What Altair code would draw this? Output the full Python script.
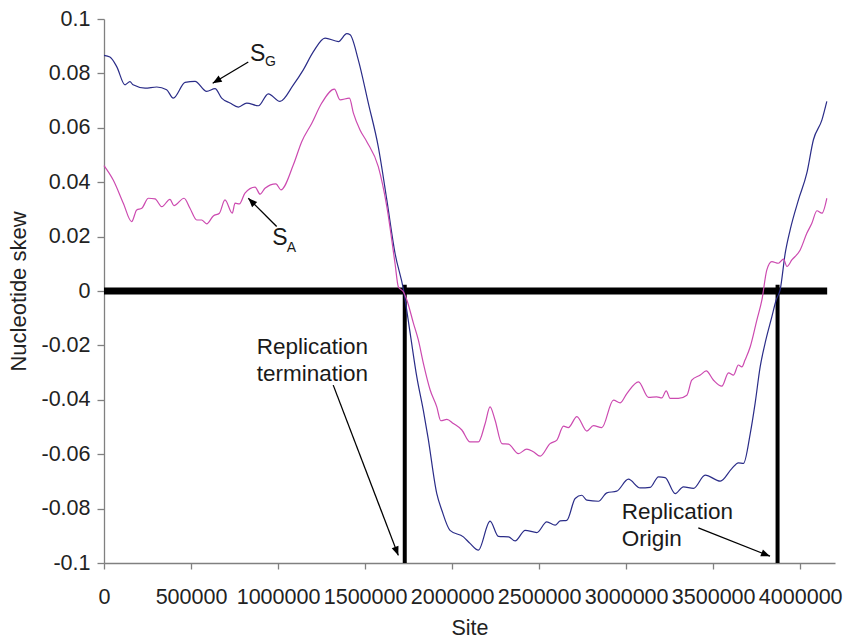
import math
import altair as alt
import pandas as pd

# ---------------- data ----------------
X_MAX = 4200000
Y_MIN, Y_MAX = -0.1, 0.1
W, H = 731, 544

x_ticks = [0, 500000, 1000000, 1500000, 2000000, 2500000, 3000000, 3500000, 4000000]
y_ticks = [-0.1, -0.08, -0.06, -0.04, -0.02, 0, 0.02, 0.04, 0.06, 0.08, 0.1]

# S_G (navy)  site in thousands
sg_site_k = [0, 34, 73, 121, 149, 167, 236, 303, 360, 398, 466, 523, 590, 638, 676, 724, 772, 820,
             887, 944, 1011, 1088, 1145, 1203, 1270, 1347, 1395, 1414, 1461, 1519, 1576, 1625,
             1672, 1720, 1759, 1797, 1835, 1862, 1912, 1941, 1988, 2065, 2103, 2151, 2218, 2266,
             2324, 2362, 2420, 2487, 2544, 2592, 2621, 2659, 2707, 2745, 2774, 2841, 2889, 2946,
             3013, 3080, 3138, 3186, 3224, 3282, 3329, 3387, 3454, 3541, 3607, 3645, 3674, 3713,
             3741, 3770, 3799, 3837, 3862, 3885, 3914, 3942, 3990, 4038, 4076, 4125, 4153]
sg_skew = [0.0866, 0.0860, 0.0825, 0.0758, 0.0770, 0.0758, 0.0746, 0.0750, 0.0740, 0.0709, 0.0767,
           0.0771, 0.0734, 0.0744, 0.0709, 0.0691, 0.0676, 0.0691, 0.0681, 0.0725, 0.0697, 0.0758,
           0.0813, 0.0880, 0.0930, 0.0917, 0.0946, 0.0942, 0.0850, 0.0690, 0.0530, 0.0335, 0.0139,
           0.0007, -0.0155, -0.0315, -0.0440, -0.0540, -0.0745, -0.0806, -0.0880, -0.0904,
           -0.0928, -0.0953, -0.0846, -0.0902, -0.0904, -0.0919, -0.0880, -0.0888, -0.0849,
           -0.0861, -0.0845, -0.0843, -0.0763, -0.0751, -0.0769, -0.0773, -0.0742, -0.0736,
           -0.0692, -0.0724, -0.0722, -0.0683, -0.0686, -0.0745, -0.0720, -0.0726, -0.0677,
           -0.0699, -0.0653, -0.0632, -0.0634, -0.0524, -0.0413, -0.0279, -0.0190, -0.0095,
           -0.0033, 0.0005, 0.0139, 0.0224, 0.0335, 0.0433, 0.0556, 0.0629, 0.0697]

# S_A (magenta)
sa_site_k = [0, 53, 111, 159, 188, 217, 255, 293, 332, 379, 402, 460, 494, 533, 561, 590, 628, 663,
             695, 737, 753, 778, 810, 868, 897, 925, 988, 1016, 1088, 1136, 1194, 1251, 1324, 1356,
             1410, 1433, 1471, 1510, 1576, 1625, 1672, 1691, 1720, 1740, 1778, 1806, 1835, 1874,
             1912, 1935, 1970, 2007, 2056, 2103, 2151, 2190, 2218, 2247, 2286, 2324, 2381, 2429,
             2467, 2506, 2563, 2602, 2640, 2668, 2717, 2774, 2812, 2860, 2927, 2966, 3004, 3071,
             3128, 3176, 3205, 3230, 3253, 3300, 3349, 3377, 3426, 3460, 3502, 3550, 3588, 3617,
             3645, 3665, 3683, 3713, 3751, 3780, 3808, 3837, 3875, 3904, 3924, 3952, 4000, 4038,
             4067, 4096, 4125, 4153]
sa_skew = [0.0461, 0.0408, 0.0323, 0.0255, 0.0298, 0.0304, 0.0341, 0.0339, 0.0310, 0.0337, 0.0314,
           0.0341, 0.0304, 0.0261, 0.0261, 0.0247, 0.0276, 0.0286, 0.0335, 0.0286, 0.0323, 0.0320,
           0.0360, 0.0382, 0.0356, 0.0378, 0.0394, 0.0372, 0.0464, 0.0549, 0.0617, 0.0691, 0.0742,
           0.0703, 0.0709, 0.0654, 0.0592, 0.0549, 0.0457, 0.0310, 0.0102, 0.0016, -0.0003,
           -0.0033, -0.0119, -0.0180, -0.0266, -0.0364, -0.0426, -0.0477, -0.0472, -0.0487,
           -0.0511, -0.0555, -0.0555, -0.0487, -0.0426, -0.0475, -0.0561, -0.0563, -0.0598,
           -0.0581, -0.0591, -0.0607, -0.0561, -0.0548, -0.0497, -0.0502, -0.0462, -0.0515,
           -0.0495, -0.0502, -0.0401, -0.0411, -0.0377, -0.0334, -0.0391, -0.0389, -0.0393,
           -0.0367, -0.0395, -0.0395, -0.0383, -0.0328, -0.0309, -0.0294, -0.0328, -0.0350,
           -0.0301, -0.0309, -0.0272, -0.0279, -0.0254, -0.0205, -0.0107, -0.0033, 0.0077,
           0.0108, 0.0102, 0.0117, 0.0090, 0.0114, 0.0151, 0.0212, 0.0249, 0.0295, 0.0286, 0.0341]

series_names = ["SG", "SA"]
series_colors = ["#2a2c88", "#cc4ab0"]

# reference lines
zero_line_end = 4155000
marker_sites = [1728000, 3870000]
marker_top = 0.0023

# arrows (tail x, tail y, tip x, tip y)
arrow_x1 = [829000, 992000, 1317000, 3414600]
arrow_y1 = [0.0842, 0.0237, -0.0346, -0.0871]
arrow_x2 = [624500, 829000, 1691000, 3826500]
arrow_y2 = [0.0764, 0.0341, -0.0972, -0.0975]

# labels
label_text = ["S", "G", "S", "A", "Replication", "termination", "Replication", "Origin"]
label_x = [838800, 925000, 967000, 1050000, 877000, 877000, 2974500, 2974500]
label_y = [0.0844, 0.0826, 0.0169, 0.0145, -0.0232, -0.0330, -0.0837, -0.0939]
label_size = [23, 14, 23, 14, 22.5, 22.5, 22.5, 22.5]

# ---------------- tables ----------------
lines_df = pd.DataFrame({
    "site": [v * 1000 for v in sg_site_k] + [v * 1000 for v in sa_site_k],
    "skew": sg_skew + sa_skew,
    "series": ["SG"] * len(sg_site_k) + ["SA"] * len(sa_site_k),
})

zero_df = pd.DataFrame({"x0": [0], "x1": [zero_line_end], "y": [0.0]})
vert_df = pd.DataFrame({"x": marker_sites, "yb": [Y_MIN] * 2, "yt": [marker_top] * 2})


def head_angle(x1, y1, x2, y2):
    dx = (x2 - x1) * W / X_MAX
    dy = -(y2 - y1) * H / (Y_MAX - Y_MIN)
    return math.degrees(math.atan2(dx, -dy)) % 360


arrow_df = pd.DataFrame({
    "x1": arrow_x1, "y1": arrow_y1, "x2": arrow_x2, "y2": arrow_y2,
    "ang": [head_angle(a, b, c, d) for a, b, c, d in zip(arrow_x1, arrow_y1, arrow_x2, arrow_y2)],
})
text_df = pd.DataFrame({"x": label_x, "y": label_y, "t": label_text, "s": label_size})

# ---------------- encodings ----------------
FONT = "Liberation Sans"
x_scale = alt.Scale(domain=[0, X_MAX], nice=False, zero=False)
y_scale = alt.Scale(domain=[Y_MIN, Y_MAX], nice=False, zero=False)

x_axis = alt.Axis(
    values=x_ticks, format="d", title="Site", grid=False,
    labelFlush=False, labelOverlap=False, labelFontSize=21.5, labelFont=FONT,
    labelColor="#222222", labelPadding=17, tickSize=6, tickColor="#808080",
    domainColor="#808080", domainWidth=1.3, tickWidth=1.3,
    titleFont=FONT, titleFontSize=21.5, titleFontWeight="normal", titleColor="#222222",
    titleY=71, titleBaseline="alphabetic",
)
y_axis = alt.Axis(
    values=y_ticks, labelExpr="toString(round(datum.value*100)/100)",
    title="Nucleotide skew", grid=False, labelFlush=False, labelOverlap=False,
    labelFontSize=21.5, labelFont=FONT, labelColor="#222222", labelPadding=7,
    tickSize=7, tickColor="#808080", domainColor="#808080", domainWidth=1.3, tickWidth=1.3,
    titleFont=FONT, titleFontSize=22, titleFontWeight="normal", titleColor="#222222",
    titleX=-79, titleBaseline="alphabetic",
)


def X(field):
    return alt.X(field, type="quantitative", scale=x_scale, axis=x_axis)


def Y(field):
    return alt.Y(field, type="quantitative", scale=y_scale, axis=y_axis)


zero_layer = alt.Chart(zero_df).mark_rule(color="black", strokeWidth=7).encode(
    x=X("x0"), x2="x1", y=Y("y"))
vert_layer = alt.Chart(vert_df).mark_rule(color="black", strokeWidth=4).encode(
    x=X("x"), y=Y("yb"), y2="yt")
line_layer = alt.Chart(lines_df).mark_line(strokeWidth=1.2, interpolate="monotone").encode(
    x=X("site"), y=Y("skew"),
    color=alt.Color("series:N", scale=alt.Scale(domain=series_names, range=series_colors), legend=None),
    detail="series:N",
)
arrow_layer = alt.Chart(arrow_df).mark_rule(color="black", strokeWidth=1.3).encode(
    x=X("x1"), y=Y("y1"), x2="x2", y2="y2")
head_layer = alt.Chart(arrow_df).mark_point(
    shape="M0,0L0.4,1L-0.4,1Z", filled=True, size=324, color="black", opacity=1, strokeWidth=0
).encode(x=X("x2"), y=Y("y2"), angle=alt.Angle("ang:Q", scale=None))
text_layer = alt.Chart(text_df).mark_text(
    align="left", baseline="alphabetic", font=FONT, color="#1a1a1a"
).encode(x=X("x"), y=Y("y"), text="t:N", size=alt.Size("s:Q", scale=None))

chart = alt.layer(zero_layer, vert_layer, line_layer, arrow_layer, head_layer, text_layer).properties(
    width=W, height=H,
    autosize=alt.AutoSizeParams(type="none"),
    padding={"left": 104, "top": 19, "right": 843 - 104 - W, "bottom": 641 - 19 - H},
    background="white",
).configure_view(stroke=None)

chart.save("out.html", embed_options={"renderer": "svg", "actions": False})
